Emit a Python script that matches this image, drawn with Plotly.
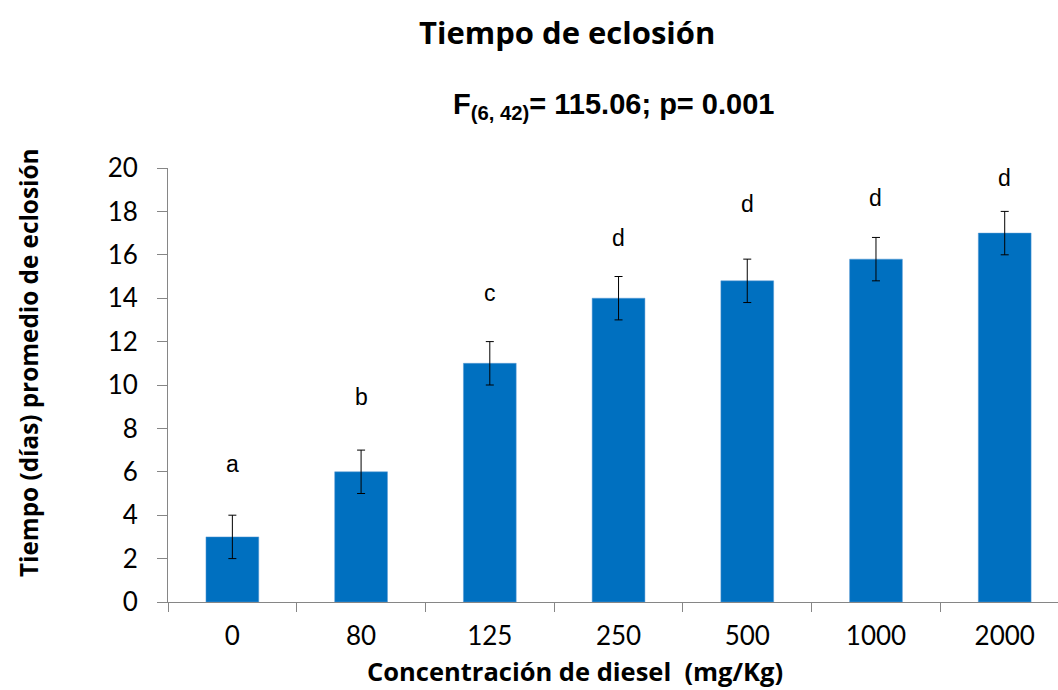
import plotly.graph_objects as go

categories = ["0", "80", "125", "250", "500", "1000", "2000"]
means = [3.0, 6.0, 11.0, 14.0, 14.8, 15.8, 17.0]
errors = [1.0, 1.0, 1.0, 1.0, 1.0, 1.0, 1.0]
letters = ["a", "b", "c", "d", "d", "d", "d"]
letter_y = [5.9, 9.0, 13.8, 16.3, 17.9, 18.15, 19.08]
y_ticks = [0, 2, 4, 6, 8, 10, 12, 14, 16, 18, 20]

PL, PW, PT, PH = 168, 890, 168, 434

fig = go.Figure()
fig.add_trace(go.Bar(
    x=categories, y=means,
    width=0.41,
    marker=dict(color="#0070C0", line=dict(color="#5B9BD5", width=0.5)),
    error_y=dict(type="data", array=errors, visible=True,
                 color="black", thickness=1, width=4),
    showlegend=False,
))

for i, (l, yy) in enumerate(zip(letters, letter_y)):
    fig.add_annotation(x=i, y=yy, text=l, showarrow=False,
                       xref="x", yref="y", yanchor="bottom", yshift=-5,
                       font=dict(family="Liberation Sans, Arial", size=23, color="black"))

def px_x(px):
    return (px - PL) / PW

def px_y(py):
    return 1 - (py - PT) / PH

fig.add_annotation(text="<b>Tiempo de eclosión</b>", xref="paper", yref="paper",
                   x=px_x(567), y=px_y(32), showarrow=False,
                   xanchor="center", yanchor="middle",
                   font=dict(family="Open Sans", size=31, color="black"))
fig.add_annotation(text="<b>F<sub>(6, 42)</sub>= 115.06; p= 0.001</b>", xref="paper", yref="paper",
                   x=px_x(613), y=px_y(106), showarrow=False,
                   xanchor="center", yanchor="middle",
                   font=dict(family="Liberation Sans, Arial", size=29, color="black"))
fig.add_annotation(text="<b>Concentración de diesel&nbsp;&nbsp;(mg/Kg)</b>", xref="paper", yref="paper",
                   x=px_x(575), y=px_y(690), showarrow=False,
                   xanchor="center", yanchor="bottom",
                   font=dict(family="Open Sans", size=25.5, color="black"))
fig.add_annotation(text="<b>Tiempo (días) promedio de eclosión</b>", xref="paper", yref="paper",
                   x=px_x(28), y=px_y(363), showarrow=False, textangle=-90,
                   xanchor="center", yanchor="middle",
                   font=dict(family="Open Sans", size=24.3, color="black"))

fig.update_layout(
    width=1058, height=690,
    margin=dict(l=PL, r=0, t=PT, b=88),
    plot_bgcolor="white", paper_bgcolor="white",
    bargap=0.59,
    xaxis=dict(
        type="category", range=[-0.5, 6.414],
        showline=True, linecolor="#868686", linewidth=1,
        ticks="outside", tickson="boundaries", ticklen=9, tickcolor="#868686",
        showgrid=False, ticklabelstandoff=11,
        tickfont=dict(family="Lato", size=26, color="black"),
    ),
    yaxis=dict(
        range=[0, 20], tickvals=y_ticks,
        showline=True, linecolor="#868686", linewidth=1,
        ticks="outside", ticklen=10, tickcolor="#868686",
        showgrid=False, zeroline=False, ticklabelstandoff=14,
        tickfont=dict(family="Lato", size=26, color="black"),
    ),
)

fig.write_html("out.html")
